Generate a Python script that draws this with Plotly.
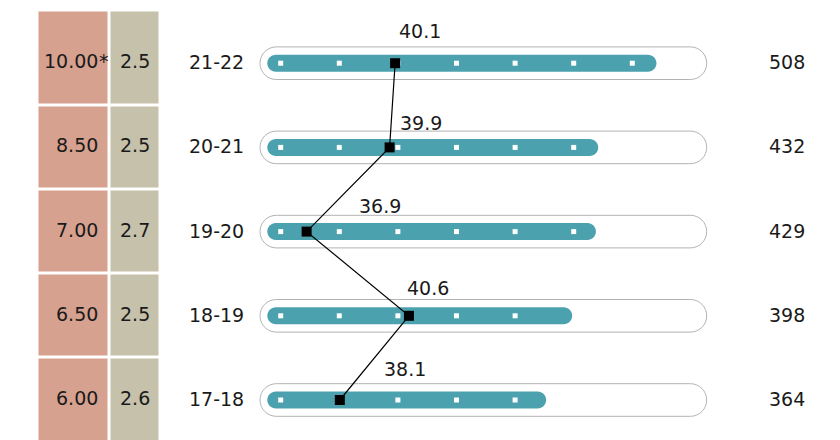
import plotly.graph_objects as go

# ---------------- data ----------------
seasons = ["17-18", "18-19", "19-20", "20-21", "21-22"]
counts = [364, 398, 429, 432, 508]
line_values = [38.1, 40.6, 36.9, 39.9, 40.1]
rates = [6.00, 6.50, 7.00, 8.50, 10.00]
rate_notes = ["", "", "", "", "*"]
secondary = [2.6, 2.5, 2.7, 2.5, 2.5]

# ---------------- layout / style constants ----------------
W, H = 840, 440
OFF = 8                  # page margin of the browser; positions below are screen px
ROW0_PX = 400.0 - OFF    # pixel centre of the first row
ROW_PX = 84.2            # pixel distance between rows
X0_PX = 267.3 - OFF      # pixel position of value 0 on the bar axis
X_PX_PER_UNIT = 0.766    # pixels per unit on the bar axis
X2_PX_PER_UNIT = 27.65
X2_AT_LEFT = 25.81 + OFF / X2_PX_PER_UNIT
TABLE_DOMAIN_PX = (37.5 - OFF, 160.5 - OFF)
TABLE_EDGES = [0, 72, 123]
TABLE_TOP_PX = 10.5 - OFF
LEFT_LABEL_PX = 245.5 - OFF
RIGHT_LABEL_PX = 807 - OFF

PINK = "#d6a18e"
TAN = "#c5c1aa"
TEAL = "#4ba1ae"
TRACK_LINE = "#b3b3b3"
TEXT = "#1a1a1a"
FONT = "DejaVu Sans"
FS = 19

TRACK_PX = (-7.3, 439.4)         # track ends relative to value 0, px
TRACK_R = 16.3
BAR_R = 8.5
DOT_POS = [17.5, 94, 170.5, 247, 323.5, 400, 476.5]
LABEL_DX = [65, 19, 73, 31, 25]
LABEL_DY = [31, 28, 26, 24, 32]

n = len(seasons)
rows = list(range(n))

x_range = [-X0_PX / X_PX_PER_UNIT, (W - X0_PX) / X_PX_PER_UNIT]
x2_range = [X2_AT_LEFT, X2_AT_LEFT + W / X2_PX_PER_UNIT]
y_range = [-(H - ROW0_PX) / ROW_PX, ROW0_PX / ROW_PX]


def pill(x0, x1, cy, rx, ry):
    k = 0.5523
    xa, xb = x0 + rx, x1 - rx
    return (f"M{xa},{cy - ry} L{xb},{cy - ry} "
            f"C{xb + k * rx},{cy - ry} {x1},{cy - k * ry} {x1},{cy} "
            f"C{x1},{cy + k * ry} {xb + k * rx},{cy + ry} {xb},{cy + ry} "
            f"L{xa},{cy + ry} "
            f"C{xa - k * rx},{cy + ry} {x0},{cy + k * ry} {x0},{cy} "
            f"C{x0},{cy - k * ry} {xa - k * rx},{cy - ry} {xa},{cy - ry} Z")


fig = go.Figure()

# ---- table (heatmap) ----
y_edges = [r - 0.5 for r in rows] + [(ROW0_PX - TABLE_TOP_PX) / ROW_PX]
fig.add_trace(go.Heatmap(
    x=TABLE_EDGES, y=y_edges, z=[[0, 1] for _ in rows],
    colorscale=[[0, PINK], [1, TAN]], zmin=0, zmax=1, showscale=False,
    xgap=3, ygap=3, xaxis="x3", yaxis="y", hoverinfo="skip"))

shapes = []
# ---- tracks ----
for r in rows:
    shapes.append(dict(type="path", xref="x", yref="y", xsizemode="pixel",
                       ysizemode="pixel", xanchor=0, yanchor=r,
                       path=pill(TRACK_PX[0], TRACK_PX[1], 0, TRACK_R, TRACK_R),
                       fillcolor="white", line=dict(color=TRACK_LINE, width=1),
                       layer="below"))
# ---- bars ----
for r, c in zip(rows, counts):
    shapes.append(dict(type="path", xref="x", yref="y", ysizemode="pixel",
                       yanchor=r,
                       path=pill(0, c, 0, BAR_R / X_PX_PER_UNIT, BAR_R),
                       fillcolor=TEAL, line=dict(width=0), layer="below"))

# ---- white dots inside bars ----
dx, dy = [], []
for r, c in zip(rows, counts):
    for d in DOT_POS:
        if d < c:
            dx.append(d)
            dy.append(r)
fig.add_trace(go.Scatter(x=dx, y=dy, mode="markers",
                         marker=dict(symbol="square", size=5, color="white"),
                         hoverinfo="skip", showlegend=False))

# ---- black line ----
fig.add_trace(go.Scatter(x=line_values, y=rows, xaxis="x2", yaxis="y",
                         mode="lines+markers",
                         line=dict(color="black", width=1.2),
                         marker=dict(symbol="square", size=10, color="black"),
                         hoverinfo="skip", showlegend=False))

ann = []
font = dict(family=FONT, size=FS, color=TEXT)
for r, v, ddx, ddy in zip(rows, line_values, LABEL_DX, LABEL_DY):
    ann.append(dict(x=v, y=r, xref="x2", yref="y", text=f"{v:.1f}",
                    showarrow=False, xshift=ddx, yshift=ddy, font=font))
for r, s, c in zip(rows, seasons, counts):
    ann.append(dict(x=LEFT_LABEL_PX / W, y=r, xref="paper", yref="y", text=s,
                    xanchor="right", showarrow=False, yshift=1, font=font))
    ann.append(dict(x=RIGHT_LABEL_PX / W, y=r, xref="paper", yref="y",
                    text=str(c), xanchor="right", showarrow=False, yshift=1,
                    font=font))
for r, rt, note, s in zip(rows, rates, rate_notes, secondary):
    ann.append(dict(x=62.5, y=r, xref="x3", yref="y", text=f"{rt:.2f}",
                    xanchor="right", showarrow=False, yshift=2, font=font))
    if note:
        ann.append(dict(x=62.5, y=r, xref="x3", yref="y", text=note,
                        xanchor="left", showarrow=False, xshift=-3, yshift=2,
                        font=font))
    ann.append(dict(x=(TABLE_EDGES[1] + TABLE_EDGES[2]) / 2, y=r, xref="x3",
                    yref="y", text=f"{s:.1f}", xanchor="center",
                    showarrow=False, yshift=2, font=font))

ax_common = dict(visible=False, showgrid=False, zeroline=False, fixedrange=True)
fig.update_layout(
    width=W, height=H, margin=dict(l=0, r=0, t=0, b=0),
    paper_bgcolor="white", plot_bgcolor="white", showlegend=False,
    shapes=shapes, annotations=ann,
    xaxis=dict(range=x_range, domain=[0, 1], **ax_common),
    xaxis2=dict(range=x2_range, overlaying="x", anchor="y", **ax_common),
    xaxis3=dict(range=[TABLE_EDGES[0], TABLE_EDGES[-1]],
                domain=[TABLE_DOMAIN_PX[0] / W, TABLE_DOMAIN_PX[1] / W],
                anchor="y", **ax_common),
    yaxis=dict(range=y_range, domain=[0, 1], **ax_common),
)

fig.write_html("out.html")
